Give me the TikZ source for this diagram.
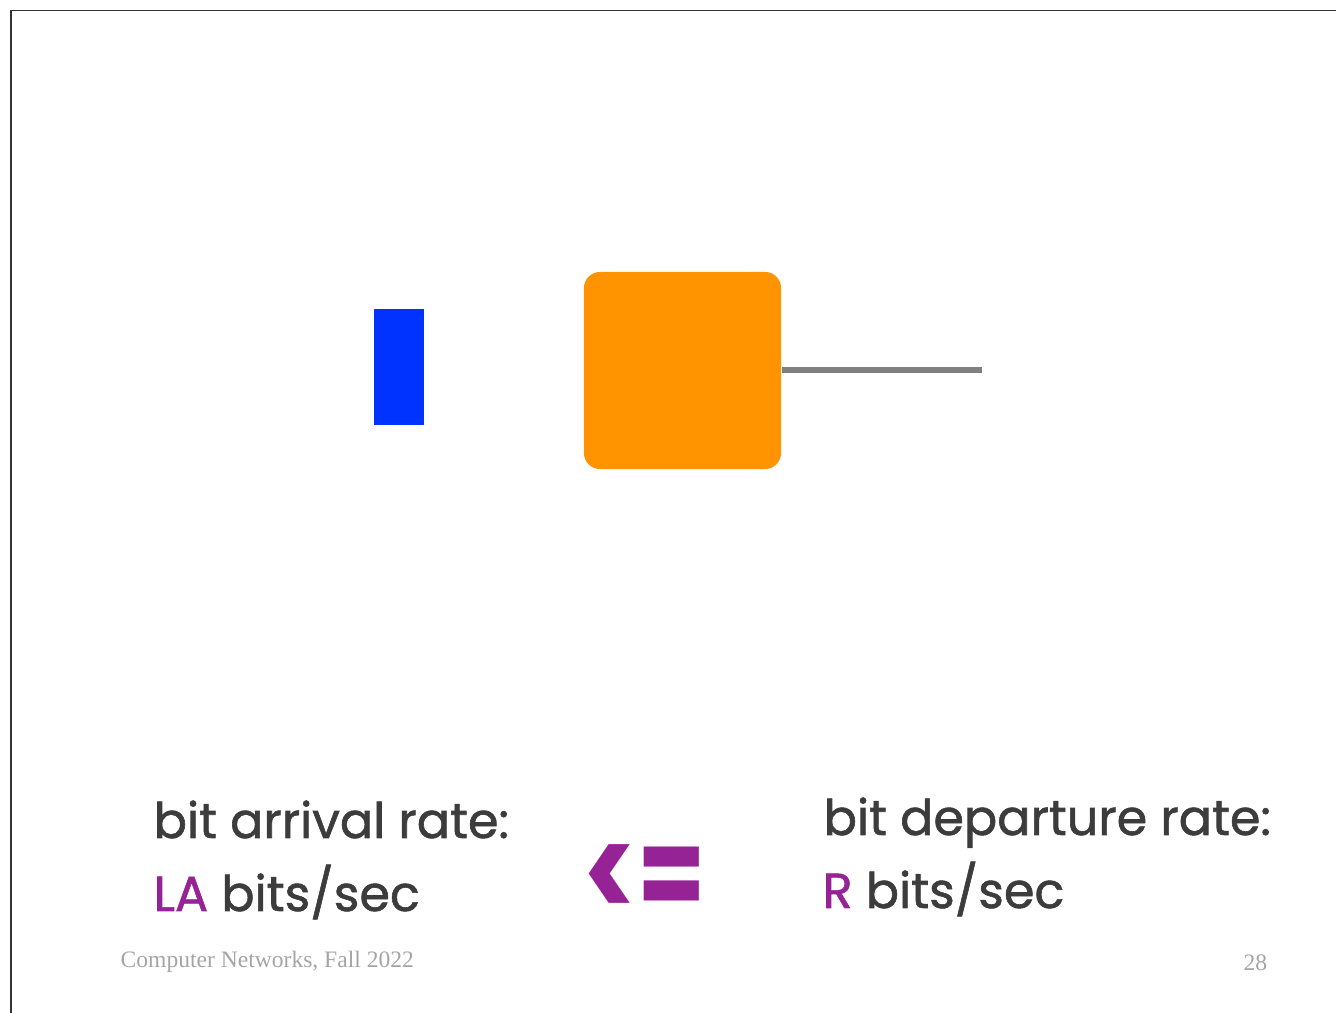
\documentclass[tikz,border=0pt]{standalone}
\usepackage{fontspec}
\setmainfont{Poppins}
\newfontfamily\ratefont{Poppins}[FakeBold=1.2]
\newfontfamily\footfont{Liberation Serif}
\usetikzlibrary{positioning}
\definecolor{packetblue}{RGB}{0,51,255}
\definecolor{routerorange}{RGB}{255,148,0}
\definecolor{ratepurple}{RGB}{150,35,150}
\definecolor{textgray}{RGB}{60,60,60}
\definecolor{footgray}{RGB}{165,165,165}

\begin{document}
\begin{tikzpicture}[x = 0.01cm, y = -0.01cm,
		rate text/.style = {anchor = base west, inner sep = 0pt, text = textgray, font = \ratefont\fontsize{14}{17}\selectfont},
		foot text/.style = {anchor = base west, inner sep = 0pt, text = footgray, font = \footfont\fontsize{6.7}{8}\selectfont}]
		\useasboundingbox (0,0) rectangle (1336,1013);
		% slide frame
		\draw[line width = 0.18mm, black!80] (11,1013) -- (11,10.5) -- (1336,10.5);
		
		% packet, router and outgoing link
		\fill[packetblue] (374,309) rectangle (424,425);
		\node[rectangle, fill = routerorange, rounded corners = 0.16cm, minimum width = 1.97cm, minimum height = 1.97cm] (router) at (682.5,370.5) {};
		\coordinate (linkend) at (982,370.5);
		\draw[line width = 0.6mm, gray] (router.east) -- (linkend);
		
		% rates
		\node[rate text] (arrival) at (153,838) {bit arrival rate:};
		\node[rate text] (arrivalbits) at (153,911) {\textcolor{ratepurple}{LA} bits/sec};
		\node[rate text] (departure) at (823,835) {bit departure rate:};
		\node[rate text] (departurebits) at (822,908) {\textcolor{ratepurple}{R} bits/sec};
		\node[anchor = center, inner sep = 0pt, text = ratepurple, font = \bfseries\fontsize{28}{34}\selectfont] (leq) at (645,883) {\scalebox{1}[1.35]{<=}};
		
		% footer
		\node[foot text] (course) at (120,967) {Computer Networks, Fall 2022};
		\node[foot text] (page) at (1243,970) {28};
	\end{tikzpicture}
\end{document}
